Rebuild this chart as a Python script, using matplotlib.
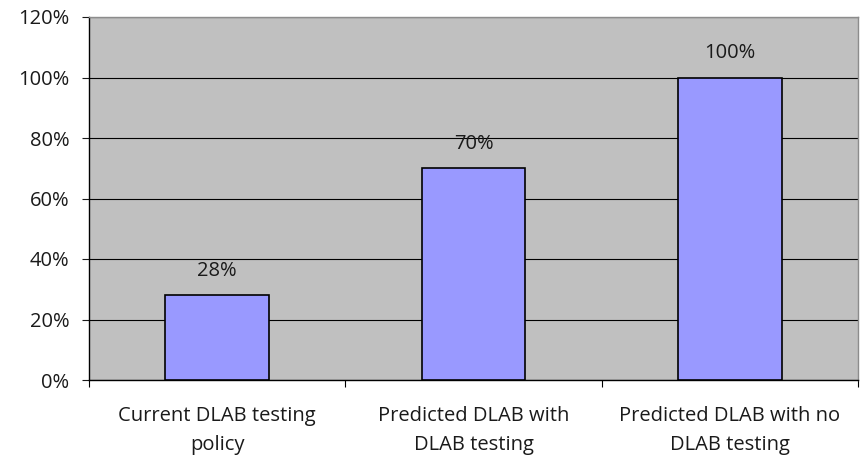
import matplotlib.pyplot as plt
from matplotlib.ticker import MultipleLocator, FuncFormatter, FixedLocator

categories = ['Current DLAB testing\npolicy',
              'Predicted DLAB with\nDLAB testing',
              'Predicted DLAB with no\nDLAB testing']
values = [28, 70, 100]

plt.rcParams['font.family'] = ['Open Sans', 'DejaVu Sans']

fig = plt.figure(figsize=(8.6, 4.63), dpi=100)
ax = fig.add_axes([89 / 860, 1 - 380 / 463, (858 - 89) / 860, (380 - 17) / 463])
ax.set_facecolor('#c0c0c0')

x = list(range(len(values)))
bars = ax.bar(x, values, width=0.405, color='#9999ff', edgecolor='black',
              linewidth=1.2, zorder=3)

ax.set_xlim(-0.5, len(values) - 0.5)
ax.set_ylim(0, 120)
ax.yaxis.set_major_locator(MultipleLocator(20))
ax.yaxis.set_major_formatter(FuncFormatter(lambda v, p: f'{v:.0f}%'))
ax.grid(axis='y', color='black', linewidth=0.8, zorder=1)

ax.set_xticks(x)
ax.set_xticklabels(categories, linespacing=1.6)
ax.tick_params(axis='x', length=0, pad=19, labelsize=14.5, colors='#1a1a1a')
ax.xaxis.set_minor_locator(FixedLocator([-0.5, 0.5, 1.5, 2.5]))
ax.tick_params(axis='x', which='minor', length=5, width=0.8)
ax.tick_params(axis='y', length=5, width=0.8, pad=9, labelsize=14.5, colors='#1a1a1a')

for side in ['left', 'bottom']:
    ax.spines[side].set_color('black')
    ax.spines[side].set_linewidth(1.0)
for side in ['top', 'right']:
    ax.spines[side].set_color('#8c8c8c')
    ax.spines[side].set_linewidth(1.0)

for b, v in zip(bars, values):
    ax.annotate(f'{v}%', (b.get_x() + b.get_width() / 2, v),
                xytext=(0, 17.5), textcoords='offset points',
                ha='center', va='center', fontsize=14.5, color='#1a1a1a')

fig.savefig('out.png', dpi=100, facecolor='white')
